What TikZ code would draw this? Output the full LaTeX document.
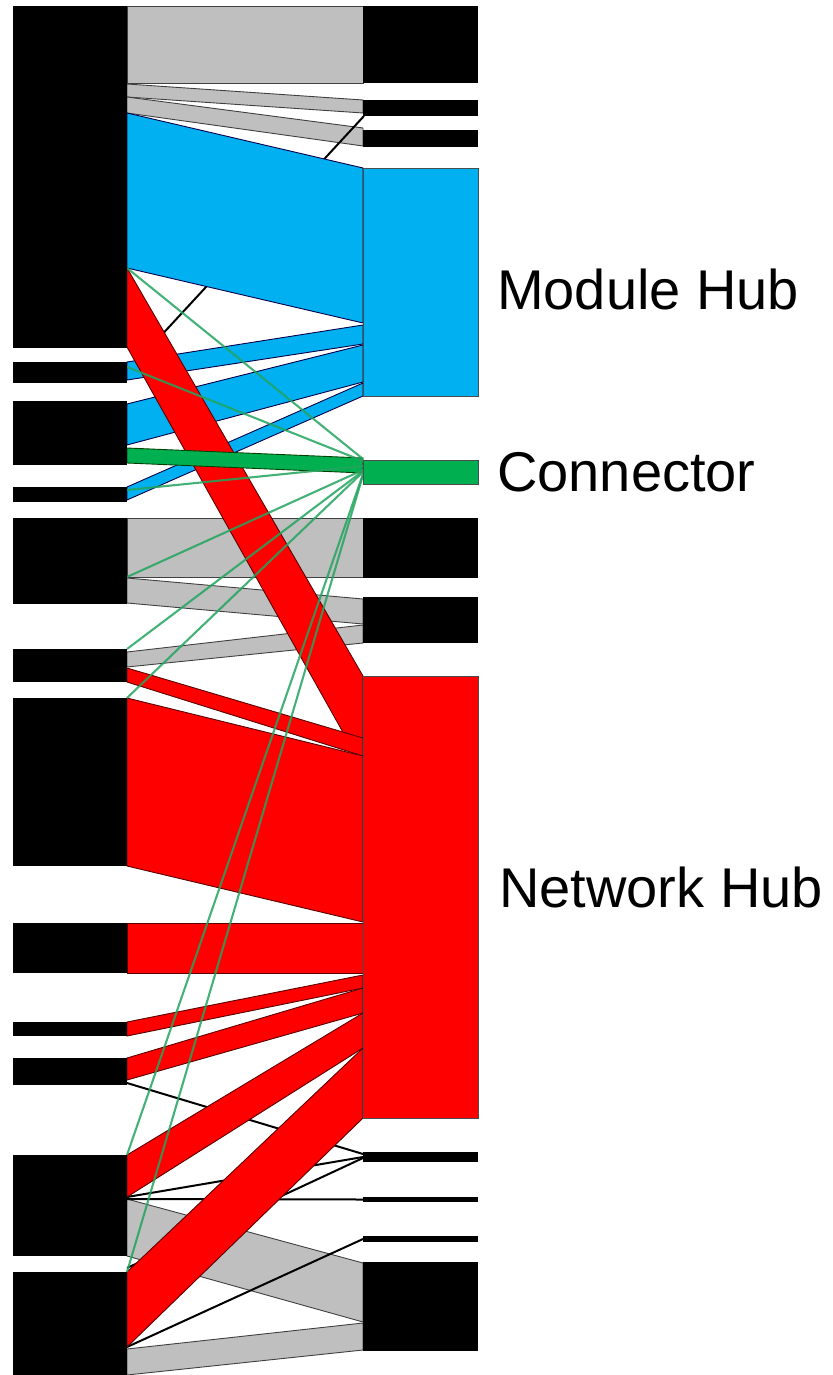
\documentclass[tikz,border=0pt]{standalone}
\usepackage{fontspec}
\setmainfont{Liberation Sans}
\definecolor{hubblue}{RGB}{0,176,240}
\definecolor{hubred}{RGB}{255,0,0}
\definecolor{hubgreen}{RGB}{0,176,80}
\definecolor{flowgray}{RGB}{191,191,191}
\definecolor{linkgreen}{RGB}{35,165,95}
\pgfdeclarelayer{front}
\pgfsetlayers{main,front}
% left and right blocks: name, top, bottom (in pixels from the top)
\newcommand{\lblk}[3]{\node[blk, minimum width=114, minimum height=#3-#2] (#1) at (13,#2) {};}
\newcommand{\rblk}[4][blk]{\node[#1, minimum width=115, minimum height=#4-#3] (#2) at (363,#3) {};}
% flow band: style, left top, left bottom, right top, right bottom
\newcommand{\flow}[5]{\filldraw[#1] (127,#2) -- (363,#4) -- (363,#5) -- (127,#3) -- cycle;}

\begin{document}
\begin{tikzpicture}[
    x=1pt, y=-1pt,
    blk/.style = {fill=black, inner sep=0, outer sep=0, anchor=north west},
    hub/.style = {blk, draw=black!70, line width=0.8pt},
    grayflow/.style = {fill=flowgray, draw=black!75, line width=0.9pt},
    blueflow/.style = {fill=hubblue, draw=blue!30!black, line width=0.9pt},
    redflow/.style = {fill=hubred, draw=red!35!black, line width=0.9pt},
    greenflow/.style = {fill=hubgreen, draw=green!25!black, line width=0.9pt},
    blink/.style = {draw=black, line width=2pt},
    glink/.style = {draw=linkgreen, line width=2.1pt, opacity=0.85},
    lbl/.style = {font=\fontsize{56}{60}\selectfont, inner sep=0, anchor=base west},
  ]
  \useasboundingbox (0,0) rectangle (832,1375);

  % blocks, kept in front of the flows
  \begin{pgfonlayer}{front}
  \lblk{l1}{6}{348}
  \lblk{l2}{362}{383}
  \lblk{l3}{401}{465}
  \lblk{l4}{487}{502}
  \lblk{l5}{518}{604}
  \lblk{l6}{649}{682}
  \lblk{l7}{698}{866}
  \lblk{l8}{923}{973}
  \lblk{l9}{1022}{1036}
  \lblk{l10}{1058}{1085}
  \lblk{l11}{1155}{1256}
  \lblk{l12}{1272}{1375}
  \rblk{r1}{6}{83}
  \rblk{r2}{100}{116}
  \rblk{r3}{130}{147}
  \rblk[hub, fill=hubblue]{r4}{168}{396}
  \rblk[hub, fill=hubgreen]{r5}{460}{484}
  \rblk{r6}{518}{578}
  \rblk{r7}{597}{643}
  \rblk[hub, fill=hubred]{r8}{676}{1118}
  \rblk{r9}{1152}{1162}
  \rblk{r10}{1197}{1202}
  \rblk{r11}{1236}{1242}
  \rblk{r12}{1262}{1351}
  \end{pgfonlayer}

  % gray flows
  \flow{grayflow}{6}{83}{6}{83}
  \flow{grayflow}{84}{97}{100}{113}
  \flow{grayflow}{97}{113}{128}{146}
  \flow{grayflow}{518}{577}{518}{577}
  \flow{grayflow}{578}{603}{599}{624}
  \flow{grayflow}{652}{667}{625}{643}
  \flow{grayflow}{1199}{1256}{1263}{1322}
  \flow{grayflow}{1349}{1375}{1323}{1350}

  % empty links
  \draw[blink] ([xshift=1pt]r2.south west) -- (l2.east);
  \draw[blink] ([yshift=2pt]l10.south east) -- ([yshift=3pt]r9.west);
  \draw[blink] ([yshift=59pt]l11.south east) -- (r9.west);
  \draw[blink] ([yshift=57pt]l11.south east) -- (r10.west);
  \draw[blink] ([yshift=-1pt]r9.west) -- ([yshift=4pt]l12.north east);
  \draw[blink] ([yshift=28pt]l12.south east) -- (r11.west);

  % module hub flows
  \flow{blueflow}{113}{268}{168}{323}
  \flow{blueflow}{362}{380}{325}{344}
  \flow{blueflow}{404}{445}{345}{382}
  \flow{blueflow}{487}{500}{383}{396}

  % network hub flows
  \flow{redflow}{268}{347}{676}{768}
  \flow{greenflow}{448}{463}{458}{473}
  \flow{redflow}{668}{682}{738}{756}
  \flow{redflow}{698}{866}{756}{922}
  \flow{redflow}{923}{973}{923}{973}
  \flow{redflow}{1022}{1036}{975}{988}
  \flow{redflow}{1058}{1080}{988}{1013}
  \flow{redflow}{1155}{1197}{1013}{1048}
  \flow{redflow}{1272}{1347}{1048}{1118}

  % connector links
  \draw[glink] ([yshift=80pt]l1.south east) -- ([yshift=1pt]r5.north west);
  \draw[glink] ([yshift=-5pt]l2.north east) -- ([yshift=-1pt]r5.north west);
  \draw[glink] ([yshift=-3pt]l4.north east) -- ([yshift=6pt]r5.west);
  \draw[glink] ([yshift=27pt]l5.south east) -- ([yshift=2pt]r5.west);
  \draw[glink] (l6.north east) -- ([yshift=1pt]r5.west);
  \draw[glink] (l7.north east) -- (r5.west);
  \draw[glink] (l11.north east) -- ([yshift=-2pt]r5.west);
  \draw[glink] (l12.north east) -- ([yshift=-3pt]r5.west);

  \node[lbl] (mhub) at (497,309) {Module Hub};
  \node[lbl] (conn) at (497,491) {Connector};
  \node[lbl] (nhub) at (499,907) {Network Hub};
\end{tikzpicture}
\end{document}
